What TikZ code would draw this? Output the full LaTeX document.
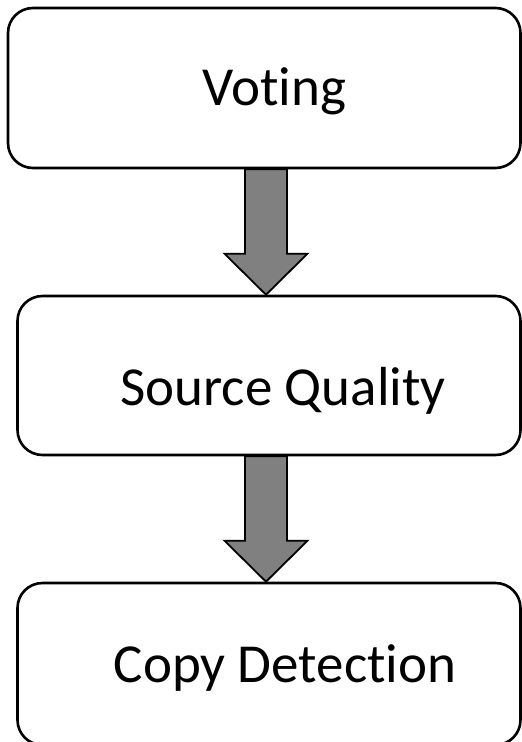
\documentclass[tikz,border=0pt]{standalone}
\usepackage{fontspec}
\setmainfont[Ligatures={NoCommon}]{Carlito}
\usetikzlibrary{calc}
\tikzset{
  stagebox/.style={draw=black, line width=2.6pt, rounded corners=25pt, fill=white,
    inner sep=0pt, minimum width=#1},
  stagebox/.default=503pt,
  stagelabel/.style={anchor=base, inner sep=0pt, font=\fontsize{55}{66}\selectfont},
  blockarrow/.style={draw=black, line width=1.8pt, fill=black!50, line join=miter}
}
\begin{document}
\begin{tikzpicture}[x=1pt, y=-1pt]
\useasboundingbox (0,0) rectangle (522,742);

% the three stages
\node[stagebox=512.5pt, minimum height=160pt] (vote) at (264.25,88) {};
\node[stagebox, minimum height=159pt] (quality) at (269,375.5) {};
\node[stagebox, minimum height=162pt] (copy) at (269,664) {};

\node[stagelabel] (votetext) at (274.5,105) {Voting};
\node[stagelabel] (qualitytext) at (283,405) {Source Quality};
\node[stagelabel] (copytext) at (285,682) {Copy Detection};

% block arrows between the stages
\coordinate (ax) at (266,0);
\foreach \from/\to in {vote/quality, quality/copy} {
  \path (ax |- \from.south) coordinate (top) (ax |- \to.north) coordinate (tip);
  \draw[blockarrow] ($(top)+(-21,0)$) -- ($(tip)+(-21,-41)$) -- ($(tip)+(-41.5,-41)$)
    -- (tip) -- ($(tip)+(41.5,-41)$) -- ($(tip)+(21,-41)$) -- ($(top)+(21,0)$) -- cycle;
}
\end{tikzpicture}
\end{document}
